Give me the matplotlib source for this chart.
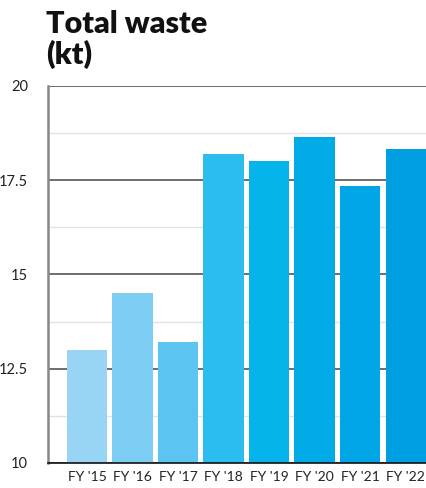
import matplotlib.pyplot as plt
from matplotlib.ticker import MultipleLocator

years = ["FY '15", "FY '16", "FY '17", "FY '18", "FY '19", "FY '20", "FY '21", "FY '22"]
waste_kt = [13.0, 14.5, 13.2, 18.2, 18.0, 18.65, 17.35, 18.33]
bar_colors = ["#98d5f5", "#7ecdf5", "#5cc4f1", "#2bbdee", "#04b4eb", "#00abe7", "#00a6e5", "#009fe2"]
y_ticks = [10, 12.5, 15, 17.5, 20]

plt.rcParams["font.family"] = ["Lato", "DejaVu Sans"]

fig = plt.figure(figsize=(4.26, 4.88), dpi=100)
ax = fig.add_axes([48 / 426, 25 / 488, 378 / 426, 377 / 488])

x = list(range(len(years)))
ax.bar(x, waste_kt, width=0.88, color=bar_colors, zorder=3)

ax.set_ylim(10, 20)
ax.set_xlim(-0.857, 7.45)
ax.set_yticks(y_ticks, labels=[f"{v:g}" for v in y_ticks])
ax.yaxis.set_minor_locator(MultipleLocator(1.25))
ax.set_xticks(x, labels=years)

ax.grid(axis="y", which="major", color="#555555", linewidth=1.2, zorder=1)
ax.grid(axis="y", which="minor", color="#dde3ea", linewidth=1.0, zorder=1)
ax.tick_params(axis="both", which="both", length=0)
ax.tick_params(axis="y", pad=14.5, labelsize=10.5, colors="#222222")
ax.tick_params(axis="x", pad=6, labelsize=10, colors="#222222")

for side in ("top", "right"):
    ax.spines[side].set_visible(False)
ax.spines["left"].set_color("#888888")
ax.spines["left"].set_linewidth(1.8)
ax.spines["bottom"].set_color("#111111")
ax.spines["bottom"].set_linewidth(1.2)
ax.spines["bottom"].set_zorder(4)

fig.text(46 / 426, 1 - 10 / 488, "Total waste\n(kt)", ha="left", va="top",
         fontsize=22, fontweight="heavy", linespacing=1.08, color="#111111")

fig.savefig("out.png", dpi=100)
